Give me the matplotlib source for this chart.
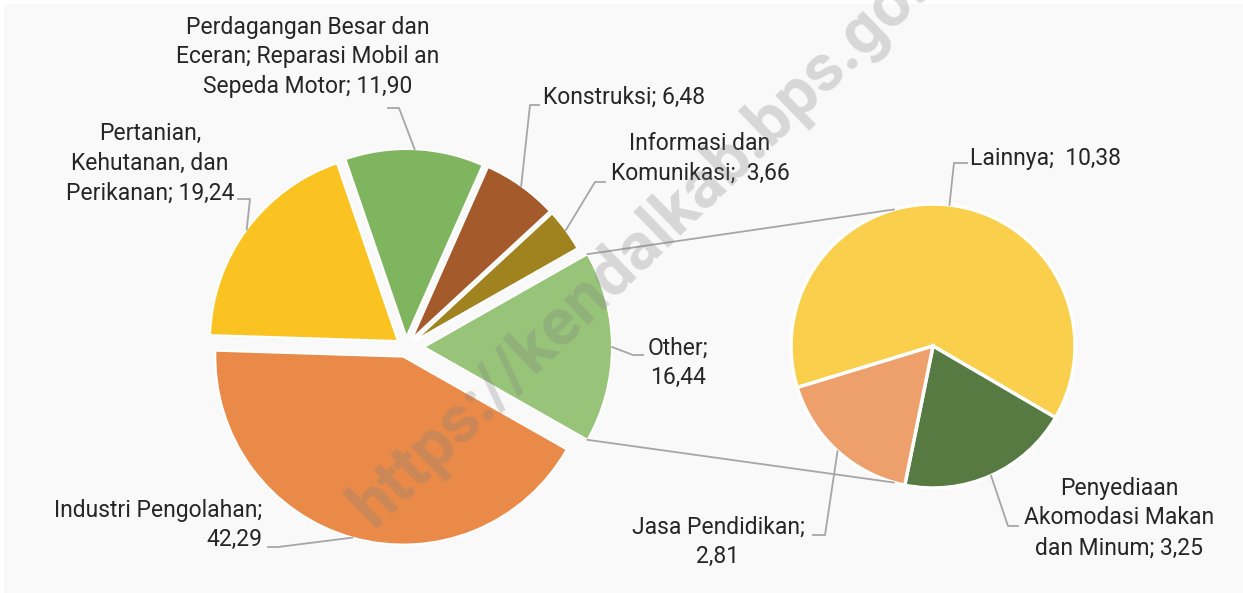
import numpy as np
import matplotlib
matplotlib.use("Agg")
import matplotlib.pyplot as plt
from matplotlib.patches import Rectangle

# ---- data ----
main_names = ["Industri Pengolahan;\n", "Pertanian,\nKehutanan, dan\nPerikanan; ",
              "Perdagangan Besar dan\nEceran; Reparasi Mobil an\nSepeda Motor; ",
              "Konstruksi; ", "Informasi dan\nKomunikasi;  ", "Other;\n"]
main_values = [42.29, 19.24, 11.90, 6.48, 3.66, 16.44]
main_colors = ["#E98A48", "#FAC322", "#7FB55E", "#A55A2B", "#A0821F", "#98C47A"]

sub_names = ["Lainnya;  ", "Penyediaan\nAkomodasi Makan\ndan Minum; ", "Jasa Pendidikan;\n"]
sub_values = [10.38, 3.25, 2.81]
sub_colors = ["#F9CF4C", "#577A43", "#ED9F6C"]

W, H = 1243, 593
def Y(y):  # image y -> axes y
    return H - y

def fmt(v):
    return f"{v:.2f}".replace(".", ",")

fig = plt.figure(figsize=(W / 100, H / 100), dpi=100)
fig.patch.set_facecolor("white")
ax = fig.add_axes([0, 0, 1, 1])
ax.add_patch(Rectangle((4, 0), W - 4, H - 4, facecolor="#F9F9F9", edgecolor="none", zorder=0))

plt.rcParams["font.family"] = ["Roboto", "DejaVu Sans"]
TXT = "#262626"
FS = 16.5
LINE = "#A6A6A6"

# ---- main pie ----
total = sum(main_values)
start_main = -main_values[-1] / total * 360 / 2
explode_main = [10, 10, 10, 10, 10, 18]   # in pixels (data units)
main_center = (406, Y(347))
main_r = 188
mw, _ = ax.pie(main_values, colors=main_colors, startangle=start_main, counterclock=False,
               center=main_center, radius=main_r, explode=explode_main,
               wedgeprops=dict(edgecolor="white", linewidth=1.5))

# ---- secondary pie ----
sub_center = (933, Y(346))
sub_r = 142
sw, _ = ax.pie(sub_values, colors=sub_colors, startangle=197, counterclock=False,
               center=sub_center, radius=sub_r,
               wedgeprops=dict(edgecolor="white", linewidth=2.5))

# ---- connector lines between pies ----
ow = mw[-1]
for th_main, th_sub in [(ow.theta2, 106), (ow.theta1, -106)]:
    p1 = (ow.center[0] + ow.r * np.cos(np.radians(th_main)), ow.center[1] + ow.r * np.sin(np.radians(th_main)))
    p2 = (sub_center[0] + sub_r * np.cos(np.radians(th_sub)), sub_center[1] + sub_r * np.sin(np.radians(th_sub)))
    ax.plot([p1[0], p2[0]], [p1[1], p2[1]], color=LINE, lw=1.3, zorder=1)

def anchor(w):
    m = np.radians((w.theta1 + w.theta2) / 2)
    return w.center[0] + w.r * np.cos(m), w.center[1] + w.r * np.sin(m)

# label placement: (text x, text y, ha, elbow, end)
main_lab = [
    (262, 525, "right", (278, 547), (268, 547)),
    (150, 163, "center", (250, 199), (238, 199)),
    (308, 57, "center", (399, 108), (388, 108)),
    (543, 97, "left", (530, 105), (539, 105)),
    (700, 158, "center", (595, 182), (605, 182)),
    (678, 363, "center", (633, 355), (643, 355)),
]
sub_lab = [
    (970, 158, "left", (954, 163), (967, 163)),
    (1119, 518, "center", (1008, 526), (1018, 526)),
    (718, 542, "center", (825, 535), (813, 535)),
]

for wedges, names, vals, labs in [(mw, main_names, main_values, main_lab),
                                  (sw, sub_names, sub_values, sub_lab)]:
    for w, n, v, (tx, ty, ha, el, en) in zip(wedges, names, vals, labs):
        ax.text(tx, Y(ty), n + fmt(v), ha=ha, va="center", multialignment=ha,
                fontsize=FS, color=TXT, linespacing=1.38, zorder=5)
        a = anchor(w)
        ax.plot([a[0], el[0], en[0]], [a[1], Y(el[1]), Y(en[1])], color=LINE, lw=1.3, zorder=4)

# ---- watermark ----
ax.text(660, Y(228), "https://kendalkab.bps.go.id", rotation=44, ha="center", va="center",
        fontsize=48, fontweight="bold", color="#808080", alpha=0.28, zorder=6)

ax.set_xlim(0, W)
ax.set_ylim(0, H)
ax.set_aspect("auto")
ax.axis("off")
fig.savefig("out.png", dpi=100, facecolor=fig.get_facecolor())
